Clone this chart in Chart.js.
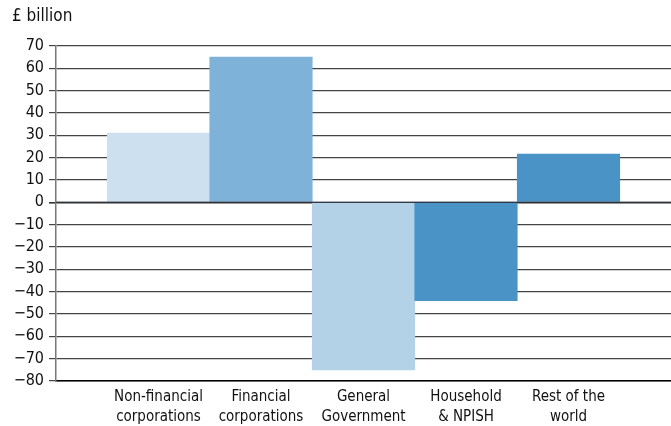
<!DOCTYPE html>
<html>
<head>
<meta charset="utf-8">
<script src="https://cdn.jsdelivr.net/npm/chart.js@4.4.0/dist/chart.umd.min.js"></script>
<style>
html,body{margin:0;padding:0;background:#fff;overflow:hidden;}
#wrap{width:671px;height:426px;position:relative;}
</style>
</head>
<body>
<div id="wrap"><canvas id="c" width="671" height="426"></canvas></div>
<script>
const unitLabel = '£ billion';
const categories = [
  ['Non-financial', 'corporations'],
  ['Financial', 'corporations'],
  ['General', 'Government'],
  ['Household', '& NPISH'],
  ['Rest of the', 'world']
];
const values = [31, 65, -75, -44, 21.6];
const barColors = ['#cce0ef', '#7fb2d8', '#b3d1e7', '#4a93c7', '#4a93c7'];
const yMin = -80, yMax = 70, yStep = 10;

const FONT = '"Liberation Sans Narrow", "DejaVu Sans Condensed", "Open Sans", sans-serif';

// padding slots on each side (empty labels)
const labels = [''].concat(categories, ['']);
const data = [null].concat(values, [null]);
const colors = ['rgba(0,0,0,0)'].concat(barColors, ['rgba(0,0,0,0)']);

const unitPlugin = {
  id: 'unitLabel',
  afterDatasetsDraw(chart) {
    // zero line drawn over the bars
    const y = chart.scales.y.getPixelForValue(0);
    const ctx = chart.ctx;
    ctx.save();
    ctx.strokeStyle = 'rgba(40,50,60,0.75)';
    ctx.lineWidth = 1.5;
    ctx.beginPath();
    ctx.moveTo(chart.chartArea.left, y);
    ctx.lineTo(chart.chartArea.right, y);
    ctx.stroke();
    ctx.restore();
  },
  afterDraw(chart) {
    const ctx = chart.ctx;
    ctx.save();
    ctx.font = '17px ' + FONT;
    ctx.fillStyle = '#111';
    ctx.textBaseline = 'middle';
    ctx.textAlign = 'left';
    ctx.fillText(unitLabel, 12, 17);
    ctx.restore();
  }
};

new Chart(document.getElementById('c'), {
  type: 'bar',
  data: {
    labels: labels,
    datasets: [{
      data: data,
      backgroundColor: colors,
      borderWidth: 0,
      categoryPercentage: 1,
      barPercentage: 1
    }]
  },
  options: {
    responsive: false,
    animation: false,
    devicePixelRatio: 1,
    layout: { padding: { top: 46, right: 0, left: 0, bottom: 0 } },
    plugins: { legend: { display: false }, tooltip: { enabled: false } },
    scales: {
      x: {
        offset: false,
        grid: { display: false, drawTicks: false },
        border: { display: true, color: '#000', width: 1.5 },
        ticks: {
          color: '#111',
          font: { family: FONT, size: 15, lineHeight: 1.35 },
          maxRotation: 0, minRotation: 0, autoSkip: false,
          padding: 6
        },
        afterFit(s) { s.height = 45; s.paddingLeft = 0; s.paddingRight = 0; }
      },
      y: {
        min: yMin, max: yMax,
        grid: {
          color: function(ctx){ return ctx.tick && ctx.tick.value === 0 ? '#333' : '#444'; },
          lineWidth: function(ctx){ return ctx.tick && ctx.tick.value === 0 ? 1.6 : 1.2; },
          tickLength: 7,
          drawTicks: true
        },
        border: { display: true, color: '#777', width: 1.5 },
        ticks: {
          stepSize: yStep,
          color: '#111',
          font: { family: FONT, size: 16 },
          padding: 5,
          callback: function(v){ return String(v).replace('-', '\u2212'); }
        },
        afterFit(s) { s.width = 56; }
      }
    }
  },
  plugins: [unitPlugin]
});
</script>
</body>
</html>
